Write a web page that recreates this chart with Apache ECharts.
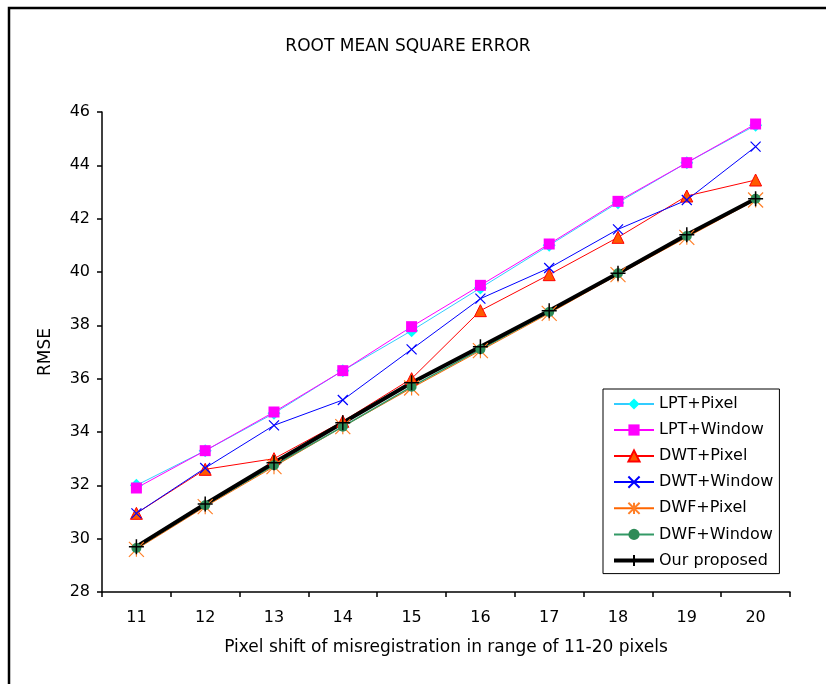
<!DOCTYPE html>
<html>
<head>
<meta charset="utf-8">
<script src="https://cdn.jsdelivr.net/npm/echarts@6/dist/echarts.min.js"></script>
<style>
html,body{margin:0;padding:0;background:#fff;}
#chart{width:826px;height:684px;}
</style>
</head>
<body>
<div id="chart"></div>
<script>
var categories = ['11','12','13','14','15','16','17','18','19','20'];
var yTicks = [28, 30, 32, 34, 36, 38, 40, 42, 44, 46];
var seriesNames = ['LPT+Pixel','LPT+Window','DWT+Pixel','DWT+Window','DWF+Pixel','DWF+Window','Our proposed'];
var lptPixel   = [32.0, 33.3, 34.7, 36.3, 37.8, 39.4, 41.0, 42.6, 44.1, 45.5];
var lptWindow  = [31.9, 33.3, 34.75, 36.3, 37.95, 39.5, 41.05, 42.65, 44.1, 45.55];
var dwtPixel   = [30.95, 32.6, 33.0, 34.4, 36.0, 38.55, 39.9, 41.3, 42.85, 43.45];
var dwtWindow  = [30.95, 32.65, 34.25, 35.2, 37.1, 39.0, 40.15, 41.6, 42.7, 44.7];
var dwfPixel   = [29.6, 31.2, 32.7, 34.2, 35.65, 37.05, 38.45, 39.9, 41.3, 42.7];
var dwfWindow  = [29.65, 31.25, 32.75, 34.2, 35.7, 37.1, 38.5, 39.95, 41.35, 42.75];
var proposed   = [29.7, 31.3, 32.85, 34.35, 35.85, 37.2, 38.55, 39.95, 41.4, 42.75];

var FONT = 'DejaVu Sans';
var X_PATH = 'path://M0,0L10,10M10,0L0,10';
var STAR_PATH = 'path://M0,0L10,10M10,0L0,10M5,0L5,10';
var PLUS_PATH = 'path://M5,0L5,10M0,5L10,5';

function mk(name, data, color, symbol, size, fill, border, bw, lw) {
  return {
    name: name, type: 'line', data: data, symbol: symbol, symbolSize: size,
    showAllSymbol: true, animation: false,
    lineStyle: { color: color, width: lw },
    itemStyle: { color: fill, borderColor: border, borderWidth: bw, opacity: 1 },
    emphasis: { disabled: true }
  };
}

var legendData = seriesNames.map(function (n, i) {
  return i === 6 ? { name: n, lineStyle: { width: 4, color: '#000' } } : { name: n };
});

var chart = echarts.init(document.getElementById('chart'), null, { renderer: 'canvas' });
chart.setOption({
  backgroundColor: '#ffffff',
  animation: false,
  textStyle: { fontFamily: FONT },
  graphic: [
    { type: 'rect', shape: { x: 9, y: 8, width: 900, height: 800 }, style: { fill: 'none', stroke: '#000', lineWidth: 2.5 }, silent: true },
    { type: 'text', x: 408, y: 47, style: { text: 'ROOT MEAN SQUARE ERROR', font: '17px "DejaVu Sans"', fill: '#000', textAlign: 'center', textVerticalAlign: 'middle' }, silent: true }
  ],
  grid: { left: 102, right: 36, top: 112, bottom: 92, containLabel: false },
  legend: {
    orient: 'vertical', left: 603, top: 389,
    data: legendData,
    itemWidth: 40, itemHeight: 14, itemGap: 10,
    padding: [7, 6, 5, 9],
    borderColor: '#000', borderWidth: 1, backgroundColor: '#fff',
    textStyle: { fontFamily: FONT, fontSize: 16, color: '#000' },
    selectedMode: false
  },
  xAxis: {
    type: 'category', data: categories, boundaryGap: true,
    name: 'Pixel shift of misregistration in range of 11-20 pixels',
    nameLocation: 'middle', nameGap: 47,
    nameTextStyle: { fontFamily: FONT, fontSize: 17, color: '#000' },
    axisLine: { lineStyle: { color: '#000', width: 1.5 } },
    axisTick: { show: true, inside: false, length: 5, alignWithLabel: false, lineStyle: { color: '#000', width: 1.5 } },
    axisLabel: { fontFamily: FONT, fontSize: 16, color: '#000', margin: 18 },
    splitLine: { show: false }
  },
  yAxis: {
    type: 'value', min: 28, max: 46, interval: 2,
    name: 'RMSE', nameLocation: 'middle', nameGap: 48,
    nameTextStyle: { fontFamily: FONT, fontSize: 17, color: '#000' },
    axisLine: { show: true, lineStyle: { color: '#000', width: 1.5 } },
    axisTick: { show: true, inside: false, length: 5, lineStyle: { color: '#000', width: 1.5 } },
    axisLabel: { fontFamily: FONT, fontSize: 16, color: '#000', margin: 12,
      formatter: function (v) { return yTicks.indexOf(v) >= 0 ? String(v) : ''; } },
    splitLine: { show: false }
  },
  series: [
    mk(seriesNames[0], lptPixel, '#33CCFF', 'diamond', 13, '#00FFFF', '#00FFFF', 0, 1),
    mk(seriesNames[1], lptWindow, '#FF00FF', 'rect', 11, '#FF00FF', '#FF00FF', 0, 1),
    mk(seriesNames[2], dwtPixel, '#FF0000', 'triangle', 12, '#FF5A00', '#FF0000', 1, 1),
    mk(seriesNames[3], dwtWindow, '#0000FF', X_PATH, 10, 'none', '#0000FF', 1.2, 1),
    mk(seriesNames[4], dwfPixel, '#FF6600', STAR_PATH, 15, 'none', '#FF7F27', 1.2, 1),
    mk(seriesNames[5], dwfWindow, '#339966', 'circle', 10, '#2E8B57', '#2E8B57', 0, 1.5),
    mk(seriesNames[6], proposed, '#000000', PLUS_PATH, 15, 'none', '#000000', 1.5, 4)
  ]
});
</script>
</body>
</html>
